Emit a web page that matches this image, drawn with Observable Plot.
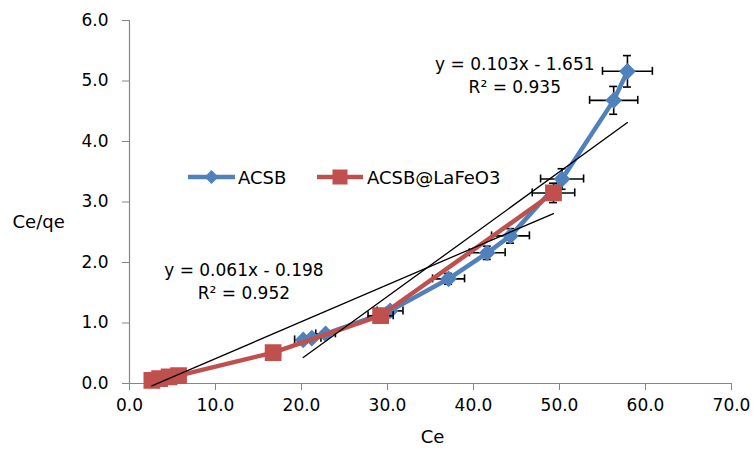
<!DOCTYPE html>
<html>
<head>
<meta charset="utf-8">
<script src="https://cdn.jsdelivr.net/npm/d3@7"></script>
<script src="https://cdn.jsdelivr.net/npm/@observablehq/plot@0.6"></script>
<style>
  body { margin: 0; background: #fff; }
  #chart { width: 753px; height: 450px; background: #fff; }
</style>
</head>
<body>
<div id="chart"></div>
<script>
// ---- data ----
const seriesNames = ["ACSB", "ACSB@LaFeO3"];
const seriesColors = ["#4F81BD", "#C0504D"];

const acsbX = [20.2, 21.2, 22.8, 30.3, 37.1, 41.6, 44.3, 50.3, 56.3, 57.9];
const acsbY = [0.72, 0.75, 0.82, 1.20, 1.73, 2.16, 2.44, 3.38, 4.68, 5.16];
const acsbXErr = [1.0, 1.06, 1.14, 1.5, 1.86, 2.08, 2.2, 2.5, 2.8, 2.9];
const acsbYErr = [0.04, 0.04, 0.04, 0.06, 0.09, 0.11, 0.12, 0.17, 0.23, 0.26];

const lafeX = [2.6, 3.5, 4.6, 5.7, 16.7, 29.2, 49.3];
const lafeY = [0.05, 0.08, 0.11, 0.13, 0.51, 1.12, 3.15];
const lafeXErr = [0.13, 0.18, 0.23, 0.29, 0.84, 1.46, 2.47];
const lafeYErr = [0.003, 0.004, 0.006, 0.007, 0.026, 0.056, 0.16];

// trendlines as printed on the chart
const fitSlopes = [0.103, 0.061];
const fitIntercepts = [-1.651, -0.198];
const fitLabels = ["y = 0.103x - 1.651\nR² = 0.935", "y = 0.061x - 0.198\nR² = 0.952"];
const fitLabelX = [44.8, 13.3];
const fitLabelY = [5.11, 1.71];

const xTicks = [0, 10, 20, 30, 40, 50, 60, 70];
const yTicks = [0, 1, 2, 3, 4, 5, 6];

// ---- build tables ----
const pts = [];
acsbX.forEach((x, i) => pts.push({s: 0, x, y: acsbY[i], ex: acsbXErr[i], ey: acsbYErr[i]}));
lafeX.forEach((x, i) => pts.push({s: 1, x, y: lafeY[i], ex: lafeXErr[i], ey: lafeYErr[i]}));
const blue = pts.filter(d => d.s === 0);
const red = pts.filter(d => d.s === 1);

const fits = [blue, red].map((arr, k) => {
  const x0 = d3.min(arr, d => d.x), x1 = d3.max(arr, d => d.x);
  return [x0, x1].map(x => ({k, x, y: fitSlopes[k] * x + fitIntercepts[k]}));
}).flat();

const labels = fitLabels.map((t, i) => ({t, x: fitLabelX[i], y: fitLabelY[i]}));

const axisGray = "#868686";
const capInset = -4;
const ebW = 1.6;

const errMarks = (arr) => [
  Plot.ruleY(arr, {y: "y", x1: d => d.x - d.ex, x2: d => d.x + d.ex, stroke: "#000", strokeWidth: ebW}),
  Plot.ruleX(arr, {x: "x", y1: d => d.y - d.ey, y2: d => d.y + d.ey, stroke: "#000", strokeWidth: ebW}),
  Plot.ruleX(arr, {x: d => d.x - d.ex, y1: "y", y2: "y", insetTop: capInset, insetBottom: capInset, stroke: "#000", strokeWidth: ebW}),
  Plot.ruleX(arr, {x: d => d.x + d.ex, y1: "y", y2: "y", insetTop: capInset, insetBottom: capInset, stroke: "#000", strokeWidth: ebW}),
  Plot.ruleY(arr, {y: d => d.y - d.ey, x1: "x", x2: "x", insetLeft: capInset, insetRight: capInset, stroke: "#000", strokeWidth: ebW}),
  Plot.ruleY(arr, {y: d => d.y + d.ey, x1: "x", x2: "x", insetLeft: capInset, insetRight: capInset, stroke: "#000", strokeWidth: ebW})
];

const chart = Plot.plot({
  width: 753,
  height: 450,
  marginLeft: 129,
  marginRight: 22,
  marginTop: 20,
  marginBottom: 67,
  style: {fontFamily: "'DejaVu Sans', sans-serif", fontSize: "17px", color: "#000", background: "#fff"},
  x: {domain: [0, 70]},
  y: {domain: [0, 6]},
  marks: [
    Plot.axisX({ticks: xTicks, tickFormat: d3.format(".1f"), tickSize: 7, tickPadding: 8, stroke: axisGray, label: null, fill: "#000"}),
    Plot.axisY({ticks: yTicks, tickFormat: d3.format(".1f"), tickSize: 7, tickPadding: 14, stroke: axisGray, label: null, fill: "#000"}),
    Plot.ruleY([0], {stroke: axisGray, strokeWidth: 1.2}),
    Plot.ruleX([0], {stroke: axisGray, strokeWidth: 1.2}),
    ...errMarks(blue),
    Plot.line(blue, {x: "x", y: "y", stroke: seriesColors[0], strokeWidth: 4.5}),
    Plot.dot(blue, {x: "x", y: "y", symbol: "diamond2", r: 6.6, fill: seriesColors[0], stroke: seriesColors[0]}),
    ...errMarks(red),
    Plot.line(red, {x: "x", y: "y", stroke: seriesColors[1], strokeWidth: 4.5}),
    Plot.dot(red, {x: "x", y: "y", symbol: "square", r: 8.6, fill: seriesColors[1], stroke: seriesColors[1]}),
    Plot.line(fits, {x: "x", y: "y", z: "k", stroke: "#000", strokeWidth: 1.3}),
    Plot.text(labels, {x: "x", y: "y", text: "t", fontSize: 17, lineHeight: 1.35, fill: "#000"}),
    Plot.text(["Ce/qe"], {frameAnchor: "left", textAnchor: "start", dx: -117, dy: 20, fontSize: 18, fill: "#000"}),
    Plot.text(["Ce"], {frameAnchor: "bottom", dx: 2, dy: 59, fontSize: 18, fill: "#000"})
  ]
});

// legend (inside plot area, as in the reference)
const svg = d3.select(chart);
const lg = svg.append("g")
  .attr("font-family", "'DejaVu Sans', sans-serif")
  .attr("font-size", 18)
  .attr("text-anchor", "start");
const legendItems = [
  {x0: 188, x1: 235, text: 238, sym: "diamond"},
  {x0: 317, x1: 363, text: 367, sym: "square"}
];
legendItems.forEach((it, i) => {
  const cy = 177, cx = (it.x0 + it.x1) / 2;
  lg.append("line").attr("x1", it.x0).attr("x2", it.x1).attr("y1", cy).attr("y2", cy)
    .attr("stroke", seriesColors[i]).attr("stroke-width", 4.5);
  if (it.sym === "diamond") {
    lg.append("path").attr("d", `M${cx},${cy-7}L${cx+7},${cy}L${cx},${cy+7}L${cx-7},${cy}Z`).attr("fill", seriesColors[i]);
  } else {
    lg.append("rect").attr("x", cx - 7.5).attr("y", cy - 7.5).attr("width", 15).attr("height", 15).attr("fill", seriesColors[i]);
  }
  lg.append("text").attr("x", it.text).attr("y", cy + 6.5).attr("fill", "#000")
    .attr("text-anchor", "start").text(seriesNames[i]);
});

document.getElementById("chart").appendChild(chart);
</script>
</body>
</html>
